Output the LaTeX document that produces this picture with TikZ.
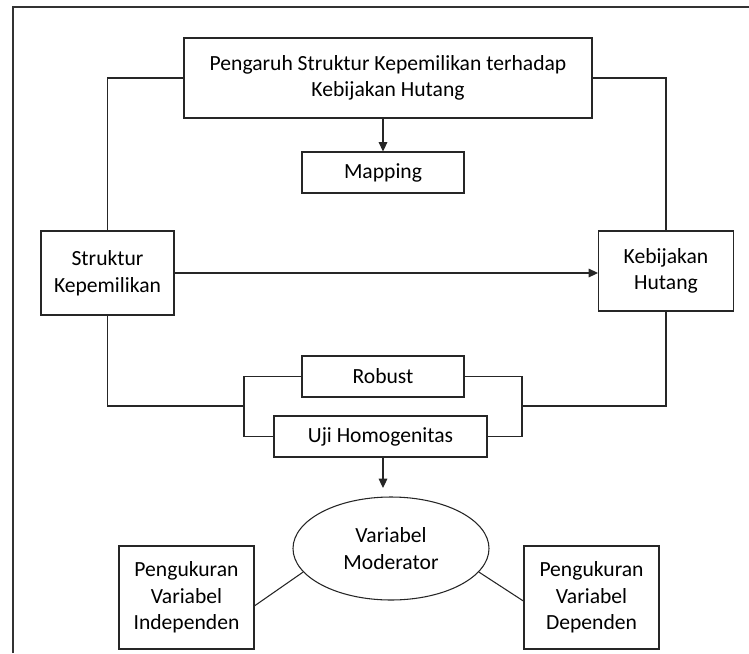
\documentclass[tikz,border=0pt]{standalone}
\usepackage{fontspec}
\setmainfont{Carlito}
\usepackage{tikz}
\usetikzlibrary{shapes.geometric, arrows.meta, positioning, calc}

\begin{document}
\begin{tikzpicture}[
        x=0.75pt, y=-0.75pt,
        box/.style={rectangle, draw=black!85, line width=0.8pt, fill=white, align=center, inner sep=0pt, font=\fontsize{16.2}{20}\selectfont},
        oval/.style={box, ellipse},
        arrow/.style={-{Triangle[length=7pt, width=6.5pt]}, line width=0.8pt, draw=black!85},
        link/.style={line width=0.8pt, draw=black!85}
    ]
        \useasboundingbox (0,0) rectangle (749,653);

        % Frame
        \draw[line width=1.2pt, black!80] (13,653) -- (13,7) -- (749,7);

        % Top
        \node[box, minimum width=306pt, minimum height=60pt] (pengaruh) at (388,78) {Pengaruh Struktur Kepemilikan terhadap\\Kebijakan Hutang};
        \node[box, minimum width=121.5pt, minimum height=30.75pt] (mapping) at (383,172.5) {Mapping};

        % Variables
        \node[box, minimum width=99.75pt, minimum height=63pt] (struktur) at (107.5,273) {Struktur\\Kepemilikan};
        \node[box, minimum width=101.25pt, minimum height=60pt] (kebijakan) at (666,271) {Kebijakan\\Hutang};

        % Tests
        \node[box, minimum width=121.5pt, minimum height=30.75pt] (robust) at (383,376.5) {Robust};
        \node[box, minimum width=159.75pt, minimum height=30.75pt] (uji) at (380.5,436.5) {Uji Homogenitas};
        \coordinate (ljoin) at (244,406);
        \coordinate (rjoin) at (522,406);

        % Bottom
        \node[oval, minimum width=147pt, minimum height=77.25pt] (moderator) at (391,548.5) {Variabel\\Moderator};
        \coordinate (tip) at (383,488);
        \node[box, minimum width=101.25pt, minimum height=77.25pt] (indep) at (186.5,597.5) {Pengukuran\\Variabel\\Independen};
        \node[box, minimum width=101.25pt, minimum height=77.25pt] (dep) at (591.5,597.5) {Pengukuran\\Variabel\\Dependen};

        % Connections
        \draw[link] (pengaruh.west) -| (struktur.north);
        \draw[link] (pengaruh.east) -| (kebijakan.north);
        \draw[arrow] (mapping.north |- pengaruh.south) -- (mapping.north);
        \draw[arrow] (struktur.east) -- (struktur.east -| kebijakan.west);

        \draw[link] (struktur.south) |- (ljoin);
        \draw[link] (robust.west) -| (ljoin) |- (uji.west);
        \draw[link] (robust.east) -| (rjoin) |- (uji.east);
        \draw[link] (rjoin) -| (kebijakan.south);

        \draw[arrow] (tip |- uji.south) -- (tip);
        \draw[link] (moderator.195) -- (indep.-7);
        \draw[link] (moderator.345) -- (dep.183);

    \end{tikzpicture}
\end{document}
